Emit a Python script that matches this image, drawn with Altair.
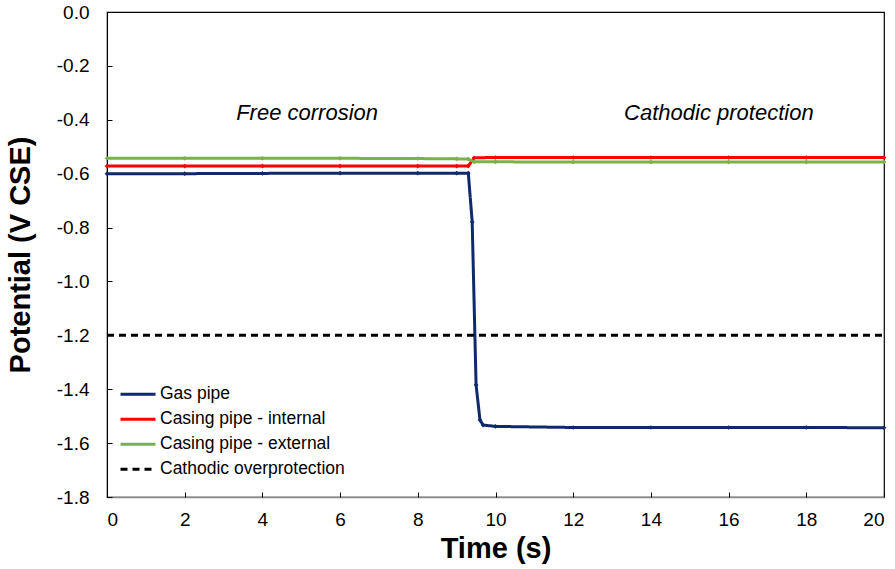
import altair as alt
import pandas as pd

FONT = "Liberation Sans"

series_names = ["Gas pipe", "Casing pipe - internal", "Casing pipe - external", "Cathodic overprotection"]
series_colors = ["#0E2A6B", "#FF0000", "#77B34A", "#000000"]
series_dash = [[1, 0], [1, 0], [1, 0], [7, 5]]

gas_t = [0, 2, 4, 6, 8, 9.0, 9.3, 9.4, 9.5, 9.6, 9.68, 10, 12, 14, 16, 18, 20]
gas_v = [-0.600, -0.600, -0.599, -0.598, -0.598, -0.598, -0.598, -0.779, -1.384, -1.514, -1.533,
         -1.538, -1.542, -1.542, -1.542, -1.542, -1.543]

int_t = [0, 2, 4, 6, 8, 9.0, 9.3, 9.45, 10, 12, 14, 16, 18, 20]
int_v = [-0.572, -0.572, -0.572, -0.572, -0.572, -0.572, -0.572, -0.541, -0.540, -0.540, -0.540,
         -0.540, -0.540, -0.540]

ext_t = [0, 2, 4, 6, 8, 9.0, 9.3, 9.45, 10, 12, 14, 16, 18, 20]
ext_v = [-0.543, -0.543, -0.543, -0.543, -0.544, -0.545, -0.546, -0.556, -0.556, -0.557, -0.557,
         -0.557, -0.557, -0.557]

over_t = [0, 20]
over_v = [-1.2, -1.2]

note_labels = ["Free corrosion", "Cathodic protection"]
note_t = [5.15, 15.75]
note_v = [-0.375, -0.375]

x_ticks = list(range(0, 21, 2))
y_ticks = [round(-0.2 * i, 1) for i in range(10)]

rows = []
for name, ts, vs in zip(series_names, [gas_t, int_t, ext_t, over_t], [gas_v, int_v, ext_v, over_v]):
    for t, v in zip(ts, vs):
        rows.append({"series": name, "t": t, "v": v})
df = pd.DataFrame(rows)
pts = df[df["series"] != "Cathodic overprotection"]
notes = pd.DataFrame({"label": note_labels, "t": note_t, "v": note_v})

xscale = alt.Scale(domain=[0, 20], nice=False)
yscale = alt.Scale(domain=[-1.8, 0], nice=False)

x_main = alt.X("t:Q", scale=xscale, title="Time (s)",
               axis=alt.Axis(values=x_ticks, format="d", tickSize=0,
                             domainColor="#888888", domainWidth=1.5, grid=False,
                             labelFontSize=19, labelPadding=13, labelColor="#000",
                             titleFontSize=29, titleFontWeight="bold", titlePadding=5,
                             titleColor="#000", orient="bottom"))
y_main = alt.Y("v:Q", scale=yscale, title="Potential (V CSE)",
               axis=alt.Axis(values=y_ticks, tickSize=0,
                             labelExpr="(datum.value < -0.001 ? '-' : '') + format(abs(datum.value), '.1f')",
                             domainColor="#000", grid=False, labelFontSize=19, labelPadding=18,
                             labelColor="#000", titleFontSize=29, titleFontWeight="bold",
                             titlePadding=21, titleColor="#000", orient="left"))

leg = alt.Legend(title=None, orient="none", legendX=12, legendY=370,
                 symbolType="stroke", symbolSize=1225, symbolStrokeWidth=3,
                 labelFontSize=17.5, labelColor="#000", labelLimit=400,
                 rowPadding=0, clipHeight=24.3, labelOffset=3)

lines = alt.Chart(df).mark_line(strokeWidth=3).encode(
    x=x_main,
    y=y_main,
    color=alt.Color("series:N", scale=alt.Scale(domain=series_names, range=series_colors), legend=leg),
    strokeDash=alt.StrokeDash("series:N", scale=alt.Scale(domain=series_names, range=series_dash), legend=leg),
    detail="series:N",
)

points = alt.Chart(pts).mark_point(filled=True, shape="diamond", size=22, opacity=1).encode(
    x=alt.X("t:Q", scale=xscale, axis=None),
    y=alt.Y("v:Q", scale=yscale, axis=None),
    color=alt.Color("series:N", scale=alt.Scale(domain=series_names, range=series_colors), legend=None),
)

text = alt.Chart(notes).mark_text(fontSize=22, fontStyle="italic", color="#000", font=FONT).encode(
    x=alt.X("t:Q", scale=xscale,
            axis=alt.Axis(values=x_ticks, orient="top", offset=-485, tickSize=5,
                          labels=False, domain=False, title=None, tickColor="#000", grid=False)),
    y=alt.Y("v:Q", scale=yscale,
            axis=alt.Axis(values=y_ticks, orient="right", offset=-777,
                          tickSize=5, labels=False, domain=False, title=None, tickColor="#000",
                          grid=False)),
    text="label:N",
)

chart = alt.layer(lines, points, text).resolve_axis(x="independent", y="independent").properties(
    width=777, height=485,
    padding={"left": 107, "top": 12, "right": 11, "bottom": 72},
    autosize=alt.AutoSizeParams(type="none"),
).configure(font=FONT).configure_view(stroke="#000", strokeWidth=1.2)

chart.save("out.html", embed_options={"renderer": "svg", "actions": False})
